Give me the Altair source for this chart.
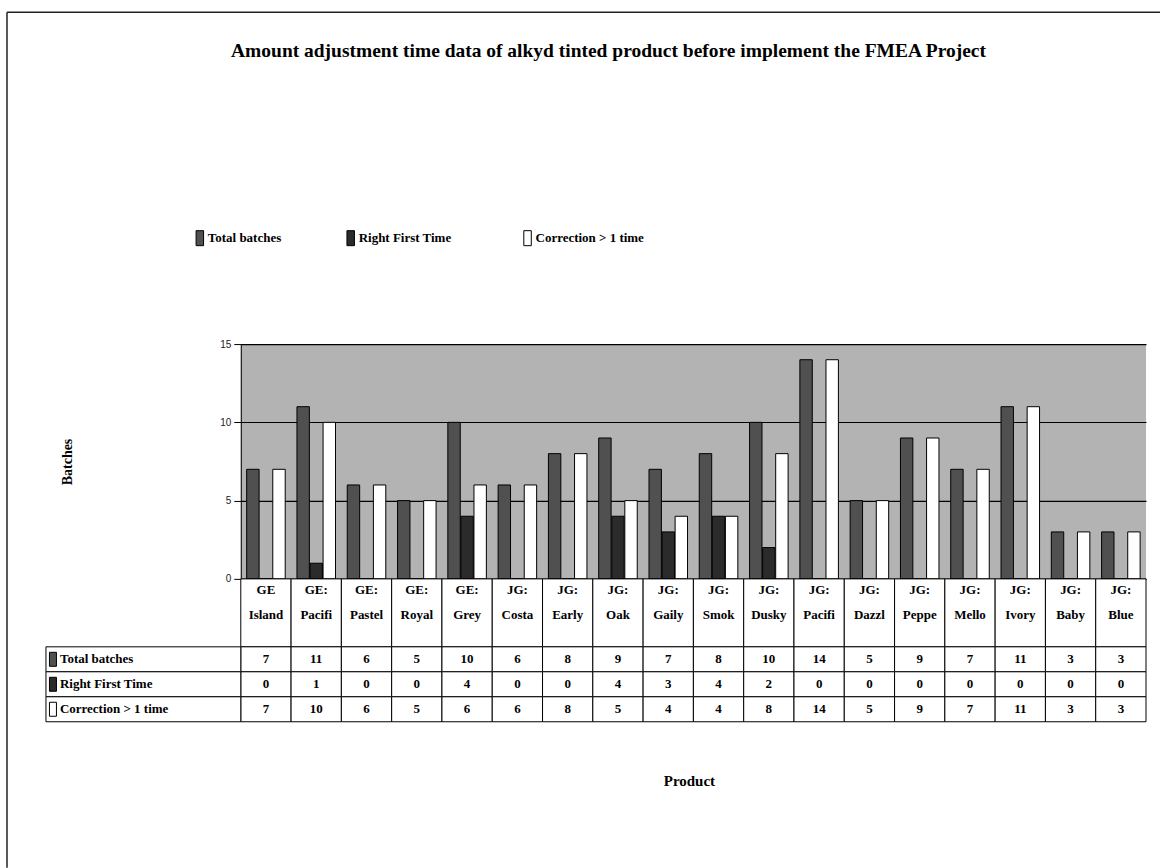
import altair as alt
import pandas as pd

# ---- data ----
brand = ["GE", "GE:", "GE:", "GE:", "GE:", "JG:", "JG:", "JG:", "JG:",
         "JG:", "JG:", "JG:", "JG:", "JG:", "JG:", "JG:", "JG:", "JG:"]
shade = ["Island", "Pacifi", "Pastel", "Royal", "Grey", "Costa", "Early", "Oak", "Gaily",
         "Smok", "Dusky", "Pacifi", "Dazzl", "Peppe", "Mello", "Ivory", "Baby", "Blue"]
series = ["Total batches", "Right First Time", "Correction > 1 time"]
total_batches = [7, 11, 6, 5, 10, 6, 8, 9, 7, 8, 10, 14, 5, 9, 7, 11, 3, 3]
right_first_time = [0, 1, 0, 0, 4, 0, 0, 4, 3, 4, 2, 0, 0, 0, 0, 0, 0, 0]
correction_more_than_once = [7, 10, 6, 5, 6, 6, 8, 5, 4, 4, 8, 14, 5, 9, 7, 11, 3, 3]
y_ticks = [0, 5, 10, 15]
title_text = "Amount adjustment time data of alkyd tinted product before implement the FMEA Project"
x_title = "Product"
y_title = "Batches"

# ---- tables built from the lists ----
keys = [f"{b} {s}" for b, s in zip(brand, shade)]
values_by_series = [total_batches, right_first_time, correction_more_than_once]
long_df = pd.DataFrame([
    {"product": k, "series": s, "value": v}
    for s, vals in zip(series, values_by_series)
    for k, v in zip(keys, vals)
])
prod_df = pd.DataFrame({"product": keys, "brand": brand, "shade": shade})
series_df = pd.DataFrame({"series": series})
one = pd.DataFrame({"a": [0]})

# ---- layout / style ----
PLOT_W, PLOT_H = 906, 235
HEAD_H, ROW_H = 68, 25
LABEL_COL = 195
SERIF = "Liberation Serif"
SANS = "Liberation Sans"
BAR_SHAPE = "M-0.5,-1L0.5,-1L0.5,1L-0.5,1Z"

x_scale = alt.Scale(domain=keys, paddingInner=0, paddingOuter=0)
fill_scale = alt.Scale(domain=series, range=["#505050", "#2b2b2b", "#ffffff"])
x_band = alt.X("product:N", scale=x_scale, axis=None)

# ---- bar panel ----
bars = alt.Chart(long_df).mark_bar(stroke="black", strokeWidth=1).encode(
    x=x_band,
    xOffset=alt.XOffset("series:N",
                        scale=alt.Scale(domain=series, paddingInner=0.05, paddingOuter=0.45)),
    y=alt.Y("value:Q",
            scale=alt.Scale(domain=[0, 15], nice=False),
            axis=alt.Axis(values=y_ticks, grid=True, gridColor="black", gridWidth=1.2,
                          domain=True, domainColor="black", tickColor="black", tickSize=7,
                          labelFont=SANS, labelFontSize=10, labelColor="#222222",
                          labelPadding=3, title=y_title, titleFont=SERIF,
                          titleFontSize=14, titleFontWeight="bold", titleColor="black",
                          titlePadding=145)),
    fill=alt.Fill("series:N", scale=fill_scale, legend=None),
)

legend_x = [-41, 110, 287]
legend_y = -106
legend_layers = []
for name, lx in zip(series, legend_x):
    item = alt.Chart(pd.DataFrame({"series": [name]}))
    legend_layers.append(
        item.mark_point(shape=BAR_SHAPE, filled=True, size=225, stroke="black",
                        strokeWidth=1, opacity=1).encode(
            x=alt.value(lx), y=alt.value(legend_y),
            fill=alt.Fill("series:N", scale=fill_scale, legend=None))
    )
    legend_layers.append(
        item.mark_text(align="left", baseline="middle", font=SERIF, fontWeight="bold",
                       fontSize=13, color="black").encode(
            x=alt.value(lx + 8), y=alt.value(legend_y), text="series:N")
    )

title_mark = alt.Chart(pd.DataFrame({"t": [title_text]})).mark_text(
    align="center", baseline="middle", font=SERIF, fontWeight="bold", fontSize=19.5,
    color="black").encode(x=alt.value(368), y=alt.value(-293), text="t:N")

frame_top = alt.Chart(one).mark_rule(color="#222222", strokeWidth=1.5).encode(
    x=alt.value(-234), x2=alt.value(920), y=alt.value(-332))
frame_left = alt.Chart(one).mark_rule(color="#222222", strokeWidth=1.5).encode(
    x=alt.value(-234), y=alt.value(-332), y2=alt.value(524))

top = alt.layer(bars, *legend_layers, title_mark, frame_top, frame_left).properties(
    width=PLOT_W, height=PLOT_H, view=alt.ViewBackground(fill="#b3b3b3", stroke=None))

# ---- table header (product names) ----
head_cells = alt.Chart(prod_df).mark_rect(fill="white", stroke="black", strokeWidth=1).encode(
    x=x_band, y=alt.value(0), y2=alt.value(HEAD_H))
head_brand = alt.Chart(prod_df).mark_text(baseline="middle", font=SERIF, fontWeight="bold",
                                          fontSize=13, color="black").encode(
    x=x_band, y=alt.value(11), text="brand:N")
head_shade = alt.Chart(prod_df).mark_text(baseline="middle", font=SERIF, fontWeight="bold",
                                          fontSize=13, color="black").encode(
    x=x_band, y=alt.value(36), text="shade:N")
header = alt.layer(head_cells, head_brand, head_shade).properties(
    width=PLOT_W, height=HEAD_H)

# ---- table body (values) ----
row_y = alt.Y("series:N", scale=alt.Scale(domain=series, paddingInner=0, paddingOuter=0),
              axis=None)
cells = alt.Chart(long_df).mark_rect(fill="white", stroke="black", strokeWidth=1).encode(
    x=x_band, y=row_y)
nums = alt.Chart(long_df).mark_text(baseline="middle", font=SERIF, fontWeight="bold",
                                    fontSize=13, color="black").encode(
    x=x_band, y=row_y, text="value:Q")
label_cells = alt.Chart(series_df).mark_rect(fill="white", stroke="black", strokeWidth=1).encode(
    x=alt.value(-LABEL_COL), x2=alt.value(0), y=row_y)
label_keys = alt.Chart(series_df).mark_point(shape=BAR_SHAPE, filled=True, size=196,
                                             stroke="black", strokeWidth=1, opacity=1).encode(
    x=alt.value(-LABEL_COL + 7), y=row_y,
    fill=alt.Fill("series:N", scale=fill_scale, legend=None))
label_text = alt.Chart(series_df).mark_text(align="left", baseline="middle", font=SERIF,
                                            fontWeight="bold", fontSize=13, color="black").encode(
    x=alt.value(-LABEL_COL + 14), y=row_y, text="series:N")
x_title_mark = alt.Chart(pd.DataFrame({"t": [x_title]})).mark_text(
    align="center", baseline="middle", font=SERIF, fontWeight="bold", fontSize=15,
    color="black").encode(x=alt.value(PLOT_W / 2 - 4), y=alt.value(3 * ROW_H + 59), text="t:N")
table = alt.layer(cells, nums, label_cells, label_keys, label_text, x_title_mark).properties(
    width=PLOT_W, height=3 * ROW_H)

chart = alt.vconcat(top, header, table, spacing=0, bounds="flush").properties(
    padding={"left": 6, "top": 11, "right": 0, "bottom": 0},
    background="white",
).configure_view(stroke=None)

chart.save("out.html", embed_options={"renderer": "svg", "actions": False})
